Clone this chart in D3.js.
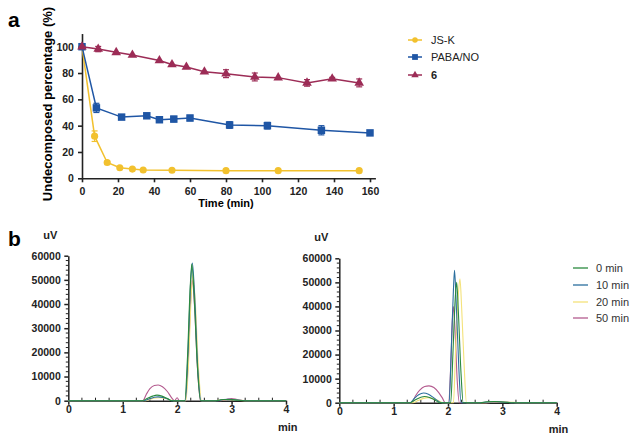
<!DOCTYPE html>
<html>
<head>
<meta charset="utf-8">
<script src="https://cdn.jsdelivr.net/npm/d3@7"></script>
<style>
  body { margin: 0; background: #fff; }
  svg { display: block; font-family: "Liberation Sans", Arial, sans-serif; }
  .axis path, .axis line { stroke: #222; }
  .axis text { fill: #222; }
</style>
</head>
<body>
<div id="chart"></div>
<script>
// panel a: decomposition over time
const seriesNames = ["JS-K", "PABA/NO", "6"];
const xTicksA = [0, 20, 40, 60, 80, 100, 120, 140, 160];
const yTicksA = [0, 20, 40, 60, 80, 100];

const timeJSK = [0, 7, 14, 21, 28, 34, 50, 80, 109, 154];
const valJSK  = [100, 32, 12, 8, 7, 6.3, 6.1, 5.8, 5.8, 5.8];
const errJSK  = [0, 4, 1, 0.5, 0, 0, 0, 0, 0, 0];

const timePABA = [0, 8, 22, 36, 43, 51, 60, 82, 103, 133, 160];
const valPABA  = [100, 53.5, 46.5, 47.5, 44.5, 45, 45.8, 40.5, 40, 36.5, 34.5];
const errPABA  = [0, 3.5, 1, 1, 1, 2, 2, 2.5, 2.5, 3.5, 1.5];

const time6 = [0, 9, 19, 28, 43, 50, 58, 68, 80, 96, 109, 125, 139, 154];
const val6  = [100, 98.2, 95.7, 93.7, 89.5, 86.5, 84.5, 81, 79.5, 77, 76.5, 72.5, 75.7, 72.5];
const err6  = [0, 2, 0.5, 0.5, 0.5, 0.5, 0.5, 0.5, 3, 3, 0.5, 2.5, 1, 3];

// panel b: chromatograms [min, uV]
const traceLabels = ["0 min", "10 min", "20 min", "50 min"];
const xTicksB = [0, 1, 2, 3, 4];
const yTicksB = [0, 10000, 20000, 30000, 40000, 50000, 60000];

const left0  = [[0,0],[1.35,0],[1.45,900],[1.55,1900],[1.63,2300],[1.72,1900],[1.82,900],[1.9,0],[2.14,0],[2.19,18000],[2.24,47000],[2.27,56500],[2.31,44000],[2.37,15000],[2.43,0],[2.72,0],[2.8,400],[2.9,500],[3.0,450],[3.1,250],[3.3,0],[4,0]];
const left10 = [[0,0],[1.38,0],[1.48,700],[1.58,1400],[1.65,1600],[1.74,1300],[1.84,600],[1.9,0],[2.15,0],[2.2,20000],[2.25,50000],[2.28,57000],[2.32,44000],[2.38,13000],[2.44,0],[2.75,0],[2.85,500],[2.95,600],[3.05,400],[3.2,100],[3.3,0],[4,0]];
const left20 = [[0,0],[1.4,0],[1.5,600],[1.6,1100],[1.68,1200],[1.78,900],[1.88,300],[1.93,0],[2.16,0],[2.21,16000],[2.26,44000],[2.29,52000],[2.33,42000],[2.39,14000],[2.45,0],[2.7,0],[2.8,300],[2.92,500],[3.02,400],[3.15,150],[3.3,0],[4,0]];
const left50 = [[0,0],[1.37,0],[1.43,2500],[1.5,5000],[1.58,6300],[1.65,6500],[1.73,5800],[1.82,3800],[1.9,1200],[1.95,0],[2.0,1200],[2.04,0],[2.15,0],[2.2,15000],[2.25,42000],[2.28,50000],[2.32,39000],[2.38,11000],[2.43,0],[2.8,0],[2.9,500],[3.0,900],[3.1,500],[3.25,0],[4,0]];

const right0  = [[0,0],[1.3,0],[1.4,1200],[1.5,2300],[1.57,2600],[1.66,2200],[1.76,1100],[1.85,0],[2.05,0],[2.09,20000],[2.13,42000],[2.16,50000],[2.19,38000],[2.24,12000],[2.28,0],[2.6,0],[2.7,400],[2.85,500],[3.0,300],[3.2,0],[4,0]];
const right10 = [[0,0],[1.3,0],[1.38,1800],[1.46,3300],[1.55,4000],[1.64,3500],[1.74,2000],[1.83,500],[1.88,0],[2.02,0],[2.06,22000],[2.1,47000],[2.12,55000],[2.15,42000],[2.2,14000],[2.24,0],[2.6,0],[2.75,300],[2.9,400],[3.05,200],[3.2,0],[4,0]];
const right20 = [[0,0],[1.35,0],[1.45,900],[1.55,1800],[1.63,2100],[1.72,1800],[1.82,900],[1.9,0],[2.1,0],[2.14,22000],[2.19,45000],[2.22,51500],[2.25,40000],[2.3,14000],[2.34,0],[2.7,0],[2.85,300],[3.0,400],[3.15,200],[3.3,0],[4,0]];
const right50 = [[0,0],[1.33,0],[1.4,2800],[1.48,5200],[1.57,6700],[1.65,7000],[1.74,6300],[1.83,4200],[1.9,1800],[1.95,0],[2.01,0],[2.05,15000],[2.08,34000],[2.1,40000],[2.13,30000],[2.17,9000],[2.21,0],[2.7,0],[2.85,200],[3.0,300],[3.2,0],[4,0]];

const colorsA = ["#f2c12e", "#1f56a5", "#9c2c56"];
const colorsB = ["#2b8a3e", "#2b6f9e", "#f4e27a", "#b45b8f"];

const W = 634, H = 436;
const svg = d3.select("#chart").append("svg").attr("width", W).attr("height", H);

// panel labels
svg.append("text").attr("x", 8).attr("y", 27).attr("font-size", 21).attr("font-weight", "bold").text("a");
svg.append("text").attr("x", 8).attr("y", 246).attr("font-size", 21).attr("font-weight", "bold").text("b");

// ---------- panel a ----------
let xA = d3.scaleLinear().domain([0, 163]).range([82, 82 + 163 * 1.8]),
    yA = d3.scaleLinear().domain([0, 110]).range([178.3, 178.3 - 110 * 1.316]);

let gA = svg.append("g");

gA.append("g")
    .attr("class", "axis")
    .attr("transform", "translate(0," + yA(0) + ")")
    .call(d3.axisBottom(xA).tickValues(xTicksA).tickFormat(d3.format("d")).tickSize(4).tickSizeOuter(0))
    .call(g => g.selectAll("path,line").attr("stroke-width", 1.6))
    .selectAll("text").attr("font-size", 10.5).attr("font-weight", "bold").attr("dy", "0.9em");

gA.append("g")
    .attr("class", "axis")
    .attr("transform", "translate(" + xA(0) + ",0)")
    .call(d3.axisLeft(yA).tickValues(yTicksA).tickFormat(d3.format("d")).tickSize(4).tickSizeOuter(0))
    .call(g => g.selectAll("path,line").attr("stroke-width", 1.6))
    .selectAll("text").attr("font-size", 10.5).attr("font-weight", "bold").attr("dx", "-0.1em");

gA.append("text")
    .attr("x", (xA(0) + xA(160)) / 2).attr("y", 207)
    .attr("text-anchor", "middle").attr("font-size", 11).attr("font-weight", "bold")
    .text("Time (min)");

gA.append("text")
    .attr("transform", "translate(52,104) rotate(-90)")
    .attr("text-anchor", "middle").attr("font-size", 13).attr("font-weight", "bold")
    .text("Undecomposed percentage (%)");

const seriesA = [
    { t: timeJSK, v: valJSK, e: errJSK, shape: d3.symbolCircle, size: 40 },
    { t: timePABA, v: valPABA, e: errPABA, shape: d3.symbolSquare, size: 56 },
    { t: time6, v: val6, e: err6, shape: d3.symbolTriangle, size: 40 }
];

let lineA = d3.line().x(d => xA(d[0])).y(d => yA(d[1]));

seriesA.forEach(function(s, i) {
    let pts = s.t.map((t, j) => [t, s.v[j], s.e[j]]);
    let g = gA.append("g");
    g.append("path")
        .attr("d", lineA(pts))
        .attr("fill", "none")
        .attr("stroke", colorsA[i])
        .attr("stroke-width", 1.5);
    // error bars
    pts.filter(p => p[2] > 0.8).forEach(function(p) {
        let x = xA(p[0]);
        g.append("line").attr("x1", x).attr("x2", x).attr("y1", yA(p[1] - p[2])).attr("y2", yA(p[1] + p[2]))
            .attr("stroke", colorsA[i]).attr("stroke-width", 1.2);
        [p[1] - p[2], p[1] + p[2]].forEach(v => {
            g.append("line").attr("x1", x - 3).attr("x2", x + 3).attr("y1", yA(v)).attr("y2", yA(v))
                .attr("stroke", colorsA[i]).attr("stroke-width", 1.2);
        });
    });
    g.selectAll("path.pt")
        .data(pts)
        .enter().append("path")
        .attr("class", "pt")
        .attr("transform", d => "translate(" + xA(d[0]) + "," + yA(d[1]) + ")")
        .attr("d", d3.symbol().type(s.shape).size(s.size))
        .attr("fill", colorsA[i]);
});

// legend a
let legA = svg.append("g");
[40, 57, 75].forEach(function(y, i) {
    legA.append("line").attr("x1", 408).attr("x2", 422).attr("y1", y).attr("y2", y)
        .attr("stroke", colorsA[i]).attr("stroke-width", 1.5);
    legA.append("path")
        .attr("transform", "translate(415," + y + ")")
        .attr("d", d3.symbol().type(seriesA[i].shape).size(seriesA[i].size * 0.6))
        .attr("fill", colorsA[i]);
    legA.append("text").attr("x", 431).attr("y", y + 4)
        .attr("font-size", 11)
        .attr("font-weight", i === 2 ? "bold" : "normal")
        .attr("fill", "#222")
        .text(seriesNames[i]);
});

// ---------- panel b ----------
function chromatogram(x0, x1, y0, y1, traces) {
    let x = d3.scaleLinear().domain([0, 4]).range([x0, x1]),
        y = d3.scaleLinear().domain([0, 60000]).range([y0, y1]);
    let g = svg.append("g");

    // minor ticks
    let xMinor = d3.range(0, 4.001, 0.25).filter(v => v % 1 !== 0),
        yMinor = d3.range(0, 60001, 2000).filter(v => v % 10000 !== 0);
    g.selectAll("line.xm").data(xMinor).enter().append("line")
        .attr("x1", d => x(d)).attr("x2", d => x(d)).attr("y1", y0).attr("y2", y0 - 3)
        .attr("stroke", "#222").attr("stroke-width", 1);
    g.selectAll("line.ym").data(yMinor).enter().append("line")
        .attr("x1", x0).attr("x2", x0 - 2.5).attr("y1", d => y(d)).attr("y2", d => y(d))
        .attr("stroke", "#222").attr("stroke-width", 1);

    g.append("g")
        .attr("class", "axis")
        .attr("transform", "translate(0," + y0 + ")")
        .call(d3.axisBottom(x).tickValues(xTicksB).tickFormat(d3.format("d")).tickSize(4).tickSizeOuter(0))
        .call(a => a.selectAll("path,line").attr("stroke-width", 1.5))
        .selectAll("text").attr("font-size", 10.5).attr("font-weight", "bold").attr("dy", "0.5em");

    g.append("g")
        .attr("class", "axis")
        .attr("transform", "translate(" + x0 + ",0)")
        .call(d3.axisLeft(y).tickValues(yTicksB).tickFormat(d3.format("d")).tickSize(4).tickSizeOuter(0))
        .call(a => a.selectAll("path,line").attr("stroke-width", 1.5))
        .selectAll("text").attr("font-size", 10.5).attr("font-weight", "bold").attr("dx", "-0.05em");

    let line = d3.line()
        .curve(d3.curveMonotoneX)
        .x(d => x(d[0]))
        .y(d => y(d[1]));

    // draw 50, 20, 10, 0 min so the early traces sit on top
    [3, 2, 1, 0].forEach(function(i) {
        g.append("path")
            .attr("d", line(traces[i]))
            .attr("fill", "none")
            .attr("stroke", colorsB[i])
            .attr("stroke-width", 1.1);
    });

    g.append("text").attr("x", x0 - 25).attr("y", y1 - 17)
        .attr("font-size", 11).attr("font-weight", "bold").attr("fill", "#222").text("uV");
    g.append("text").attr("x", x1 - 8).attr("y", y0 + 30)
        .attr("font-size", 11).attr("font-weight", "bold").attr("fill", "#222").text("min");
}

chromatogram(68.3, 286, 400.7, 255.7, [left0, left10, left20, left50]);
chromatogram(339.3, 556.7, 402.7, 258.3, [right0, right10, right20, right50]);

// legend b
let legB = svg.append("g");
[268, 285, 302, 318].forEach(function(y, i) {
    legB.append("line").attr("x1", 573).attr("x2", 588).attr("y1", y).attr("y2", y)
        .attr("stroke", colorsB[i]).attr("stroke-width", 1.3);
    legB.append("text").attr("x", 596).attr("y", y + 4)
        .attr("font-size", 11).attr("fill", "#333")
        .text(traceLabels[i]);
});
</script>
</body>
</html>
